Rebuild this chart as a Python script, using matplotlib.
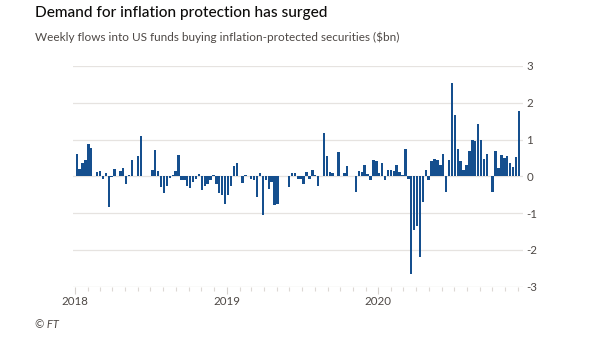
import matplotlib
matplotlib.use("Agg")
import matplotlib.pyplot as plt
import matplotlib.dates as mdates
import numpy as np
import pandas as pd

plt.rcParams["font.family"] = ["Lato", "DejaVu Sans"]
plt.rcParams["axes.unicode_minus"] = False

# ---------- Data: weekly flows ($bn) ----------
first_week = "2018-01-05"
flows = [
    0.62, 0.20, 0.35, 0.45, 0.89, 0.77, 0.00, 0.11, 0.15, -0.06,
    0.10, -0.84, -0.03, 0.20, 0.02, 0.15, 0.24, -0.20, 0.05, 0.44,
    0.00, 0.55, 1.09, 0.02, 0.01, 0.00, 0.18, 0.72, 0.14, -0.29,
    -0.44, -0.25, -0.05, 0.03, 0.15, 0.57, -0.09, -0.10, -0.26, -0.32,
    -0.15, -0.06, 0.07, -0.36, -0.25, -0.20, -0.10, 0.05, -0.20, -0.45,
    -0.52, -0.76, -0.50, -0.26, 0.27, 0.36, 0.00, -0.17, 0.05, 0.01,
    -0.07, -0.10, -0.56, 0.09, -1.05, -0.10, -0.34, -0.15, -0.78, -0.76,
    0.00, 0.02, 0.01, -0.28, 0.08, 0.09, -0.06, -0.06, -0.22, 0.13,
    -0.06, 0.17, 0.03, -0.27, 0.00, 1.18, 0.55, 0.13, 0.08, 0.00,
    0.66, 0.00, 0.09, 0.27, 0.02, 0.00, -0.43, 0.14, 0.13, 0.30,
    0.06, -0.10, 0.44, 0.41, 0.09, 0.35, -0.10, 0.18, 0.16, 0.15,
    0.31, 0.12, 0.03, 0.75, -0.08, -2.65, -1.47, -1.35, -2.20, -0.70,
    0.18, -0.10, 0.42, 0.48, 0.44, 0.30, 0.60, -0.42, 0.44, 2.53,
    1.66, 0.74, 0.41, 0.16, 0.32, 0.70, 1.00, 0.95, 1.41, 0.98,
    0.48, 0.62, 0.01, -0.43, 0.68, 0.24, 0.59, 0.50, 0.56, 0.37,
    0.26, 0.53, 1.77,
]
y_ticks = [-3, -2, -1, 0, 1, 2, 3]

weeks = pd.date_range(first_week, periods=len(flows), freq="7D")

# ---------- Figure ----------
fig = plt.figure(figsize=(6.05, 3.41), dpi=100)
fig.patch.set_facecolor("white")
ax = fig.add_axes([73 / 605, 1 - 286.7 / 341, 450 / 605, (286.7 - 66) / 341])

ax.bar(weeks, flows, width=5.8, color="#154f8e", edgecolor="none", zorder=3)

ax.set_ylim(-3, 3)
ax.set_xlim(pd.Timestamp("2017-12-27"), pd.Timestamp("2020-12-14"))

# horizontal grid
for v in y_ticks:
    ax.axhline(v, color="#e6e3e0" if v != -3 else "#dcd8d4", lw=0.9, zorder=1)

for s in ax.spines.values():
    s.set_visible(False)

# y labels on the right
ax.yaxis.tick_right()
ax.set_yticks(y_ticks)
ax.set_yticklabels([str(v) for v in y_ticks])
ax.tick_params(axis="y", length=0, pad=2.5, labelsize=8.3, labelcolor="#4d4845")

# x: years labelled, months as small ticks
ax.xaxis.set_major_locator(mdates.YearLocator())
ax.xaxis.set_major_formatter(mdates.DateFormatter("%Y"))
ax.xaxis.set_minor_locator(mdates.MonthLocator())
ax.tick_params(axis="x", which="major", length=5, width=0.8, color="#d6d2ce",
               pad=2, labelsize=8.3, labelcolor="#4d4845")
ax.tick_params(axis="x", which="minor", length=3, width=0.8, color="#dcd8d4")

# ---------- Text ----------
fig.text(35 / 605, 1 - 17.3 / 341, "Demand for inflation protection has surged",
         fontsize=11.1, fontweight="medium", color="#0d0c0b",
         va="baseline", ha="left")
fig.text(35 / 605, 1 - 40.7 / 341,
         "Weekly flows into US funds buying inflation-protected securities ($bn)",
         fontsize=8.5, color="#4d4845", va="baseline", ha="left")
fig.text(35 / 605, 1 - 328 / 341, "© FT", fontsize=8, color="#4d4845",
         style="italic", va="baseline", ha="left")

fig.savefig("out.png", dpi=100, facecolor="white")
